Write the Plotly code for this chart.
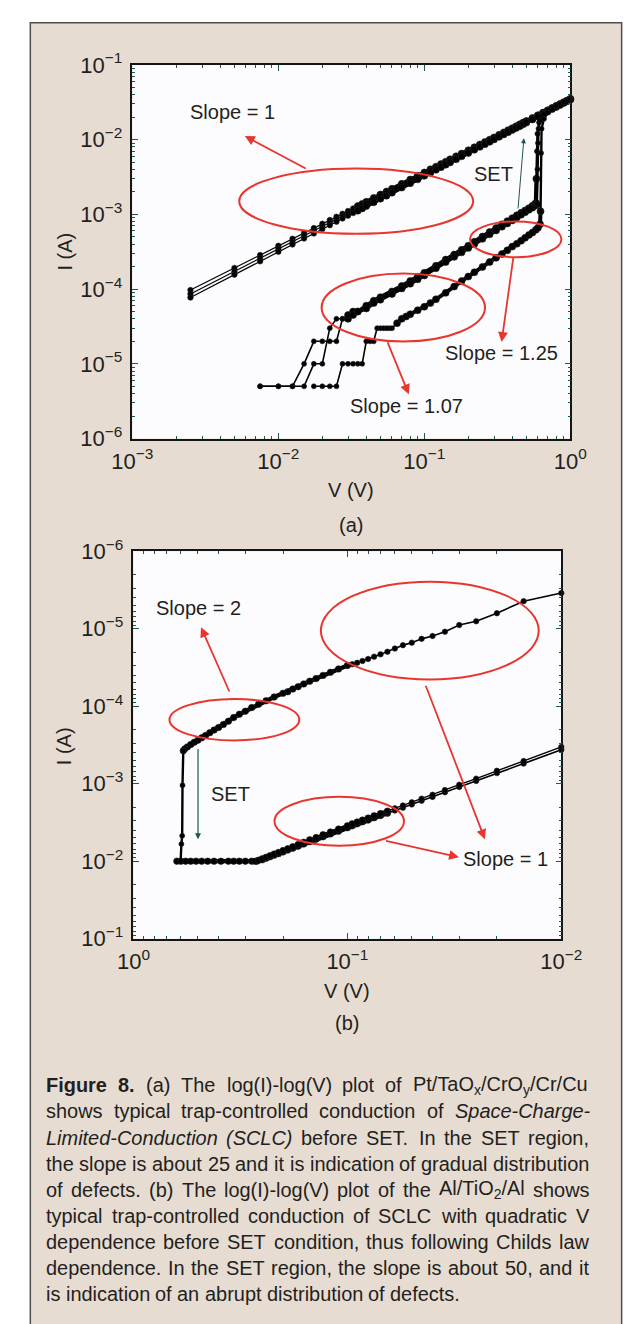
import re
import plotly.graph_objects as go

W, H = 624, 1324

# ---------------- panel (a): Pt/TaOx/CrOy/Cr/Cu ----------------
# low-resistance state, three sweeps
a_lrs_v = [0.0025, 0.005, 0.0075, 0.01, 0.0125, 0.015, 0.0175, 0.02, 0.0225, 0.025,
           0.0275, 0.03, 0.0325, 0.035, 0.0375, 0.04, 0.045, 0.05, 0.055, 0.06,
           0.07, 0.08, 0.09, 0.1, 0.11, 0.12, 0.13, 0.14, 0.15, 0.165,
           0.18, 0.2, 0.22, 0.24, 0.26, 0.28, 0.3, 0.325, 0.35, 0.375,
           0.4, 0.425, 0.45, 0.475, 0.5, 0.55, 0.6, 0.65, 0.7, 0.75,
           0.8, 0.85, 0.9, 0.95, 1.0]
a_lrs_i1 = [9.7e-5, 1.92e-4, 2.85e-4, 3.8e-4, 4.72e-4, 5.65e-4, 6.55e-4, 7.5e-4, 8.4e-4, 9.3e-4,
            1.02e-3, 1.11e-3, 1.2e-3, 1.29e-3, 1.38e-3, 1.47e-3, 1.66e-3, 1.84e-3, 2.02e-3, 2.2e-3,
            2.56e-3, 2.92e-3, 3.28e-3, 3.64e-3, 4.0e-3, 4.35e-3, 4.71e-3, 5.07e-3, 5.45e-3, 5.97e-3,
            6.5e-3, 7.2e-3, 7.9e-3, 8.6e-3, 9.3e-3, 1.0e-2, 1.07e-2, 1.16e-2, 1.25e-2, 1.34e-2,
            1.42e-2, 1.51e-2, 1.6e-2, 1.69e-2, 1.77e-2, 1.95e-2, 2.12e-2, 2.3e-2, 2.47e-2, 2.65e-2,
            2.82e-2, 2.99e-2, 3.16e-2, 3.33e-2, 3.5e-2]
a_lrs_i2 = [8.6e-5, 1.72e-4, 2.6e-4, 3.45e-4, 4.3e-4, 5.2e-4, 6.0e-4, 6.9e-4, 7.75e-4, 8.6e-4,
            9.5e-4, 1.04e-3, 1.12e-3, 1.21e-3, 1.3e-3, 1.38e-3, 1.56e-3, 1.73e-3, 1.9e-3, 2.07e-3,
            2.42e-3, 2.77e-3, 3.11e-3, 3.46e-3, 3.81e-3, 4.15e-3, 4.5e-3, 4.85e-3, 5.2e-3, 5.72e-3,
            6.25e-3, 6.95e-3, 7.65e-3, 8.35e-3, 9.05e-3, 9.75e-3, 1.045e-2, 1.13e-2, 1.22e-2, 1.31e-2,
            1.4e-2, 1.48e-2, 1.57e-2, 1.66e-2, 1.75e-2, 1.92e-2, 2.1e-2, 2.27e-2, 2.45e-2, 2.62e-2,
            2.8e-2, 2.97e-2, 3.15e-2, 3.32e-2, 3.5e-2]
a_lrs_i3 = [7.7e-5, 1.56e-4, 2.35e-4, 3.15e-4, 3.95e-4, 4.75e-4, 5.55e-4, 6.35e-4, 7.15e-4, 7.95e-4,
            8.8e-4, 9.6e-4, 1.04e-3, 1.12e-3, 1.2e-3, 1.29e-3, 1.45e-3, 1.62e-3, 1.78e-3, 1.95e-3,
            2.28e-3, 2.61e-3, 2.94e-3, 3.28e-3, 3.61e-3, 3.95e-3, 4.28e-3, 4.62e-3, 4.95e-3, 5.46e-3,
            5.97e-3, 6.64e-3, 7.32e-3, 8.0e-3, 8.68e-3, 9.35e-3, 1.005e-2, 1.09e-2, 1.175e-2, 1.26e-2,
            1.345e-2, 1.43e-2, 1.515e-2, 1.6e-2, 1.69e-2, 1.86e-2, 2.03e-2, 2.21e-2, 2.38e-2, 2.56e-2,
            2.73e-2, 2.9e-2, 3.08e-2, 3.26e-2, 3.45e-2]

# high-resistance state sweeps up to SET
a_hrs1_v = [0.0075, 0.01, 0.0125, 0.015, 0.0175, 0.02, 0.0225, 0.025, 0.0275, 0.03,
            0.0325, 0.035, 0.04, 0.045, 0.05, 0.06, 0.07, 0.08, 0.09, 0.1,
            0.12, 0.14, 0.16, 0.18, 0.2, 0.22, 0.25, 0.28, 0.31, 0.34,
            0.37, 0.4, 0.43, 0.46, 0.49, 0.52, 0.55, 0.57, 0.58, 0.585,
            0.59, 0.595, 0.61, 0.64, 0.7, 0.8, 0.9, 1.0]
a_hrs1_i = [5e-6, 5e-6, 5e-6, 1e-5, 2e-5, 2e-5, 2e-5, 2e-5, 4e-5, 4e-5,
            5e-5, 5e-5, 6e-5, 7e-5, 7.8e-5, 9.3e-5, 1.1e-4, 1.28e-4, 1.46e-4, 1.65e-4,
            2.05e-4, 2.48e-4, 2.9e-4, 3.35e-4, 3.8e-4, 4.3e-4, 5.05e-4, 5.8e-4, 6.55e-4, 7.35e-4,
            8.1e-4, 8.9e-4, 9.7e-4, 1.05e-3, 1.13e-3, 1.21e-3, 1.3e-3, 1.36e-3, 1.42e-3, 3.0e-3,
            7.0e-3, 1.2e-2, 1.7e-2, 2.1e-2, 2.5e-2, 2.9e-2, 3.2e-2, 3.5e-2]

a_hrs2_v = [0.0075, 0.01, 0.0125, 0.015, 0.0175, 0.02, 0.0225, 0.025, 0.0275, 0.03,
            0.0325, 0.035, 0.04, 0.045, 0.05, 0.06, 0.07, 0.08, 0.09, 0.1,
            0.12, 0.14, 0.16, 0.18, 0.2, 0.22, 0.25, 0.28, 0.31, 0.34,
            0.37, 0.4, 0.43, 0.46, 0.49, 0.52, 0.55, 0.58, 0.59, 0.595,
            0.6, 0.605, 0.62, 0.66, 0.75, 0.85, 1.0]
a_hrs2_i = [5e-6, 5e-6, 5e-6, 5e-6, 1e-5, 1e-5, 3e-5, 4e-5, 4e-5, 4.5e-5,
            4.5e-5, 5e-5, 5.5e-5, 6.5e-5, 7.2e-5, 8.6e-5, 1.02e-4, 1.18e-4, 1.35e-4, 1.52e-4,
            1.9e-4, 2.3e-4, 2.7e-4, 3.1e-4, 3.55e-4, 4.0e-4, 4.7e-4, 5.4e-4, 6.1e-4, 6.85e-4,
            7.55e-4, 8.3e-4, 9.1e-4, 9.9e-4, 1.07e-3, 1.15e-3, 1.23e-3, 1.31e-3, 1.38e-3, 4.0e-3,
            9.0e-3, 1.4e-2, 1.8e-2, 2.2e-2, 2.7e-2, 3.05e-2, 3.5e-2]

a_hrs3_v = [0.0175, 0.02, 0.0225, 0.025, 0.0275, 0.03, 0.0325, 0.035, 0.0375, 0.04,
            0.0425, 0.045, 0.0475, 0.05, 0.0525, 0.055, 0.0575, 0.06, 0.065, 0.07,
            0.075, 0.08, 0.09, 0.1, 0.11, 0.12, 0.14, 0.16, 0.18, 0.2,
            0.22, 0.25, 0.28, 0.31, 0.34, 0.37, 0.4, 0.43, 0.46, 0.49,
            0.52, 0.55, 0.58, 0.6, 0.62, 0.625, 0.63, 0.635, 0.66, 0.7,
            0.8, 0.9, 1.0]
a_hrs3_i = [5e-6, 5e-6, 5e-6, 5e-6, 1e-5, 1e-5, 1e-5, 1e-5, 1e-5, 2e-5,
            2e-5, 2e-5, 3e-5, 3e-5, 3e-5, 3e-5, 3e-5, 3e-5, 3.5e-5, 4e-5,
            4.3e-5, 4.6e-5, 5.2e-5, 5.8e-5, 6.5e-5, 7.3e-5, 8.9e-5, 1.08e-4, 1.28e-4, 1.47e-4,
            1.68e-4, 1.98e-4, 2.3e-4, 2.62e-4, 2.95e-4, 3.3e-4, 3.7e-4, 4.05e-4, 4.45e-4, 4.85e-4,
            5.3e-4, 5.7e-4, 6.2e-4, 6.6e-4, 7.4e-4, 1.1e-3, 6.6e-3, 1.4e-2, 1.9e-2, 2.3e-2,
            2.8e-2, 3.2e-2, 3.5e-2]

# ---------------- panel (b): Al/TiO2/Al ----------------
b_hrs_v = [0.01, 0.015, 0.02, 0.025, 0.03, 0.035, 0.04, 0.045, 0.05, 0.055,
           0.06, 0.065, 0.07, 0.075, 0.08, 0.085, 0.09, 0.095, 0.1, 0.11,
           0.12, 0.13, 0.14, 0.15, 0.16, 0.17, 0.18, 0.19, 0.2, 0.22,
           0.24, 0.26, 0.28, 0.3, 0.32, 0.34, 0.36, 0.38, 0.4, 0.42,
           0.44, 0.46, 0.48, 0.5, 0.52, 0.54, 0.56, 0.575, 0.585, 0.59,
           0.592, 0.597, 0.602, 0.615, 0.627]
b_hrs_i = [3.46e-6, 4.4e-6, 6.3e-6, 8.0e-6, 8.95e-6, 1.09e-5, 1.24e-5, 1.35e-5, 1.51e-5, 1.63e-5,
           1.8e-5, 1.98e-5, 2.14e-5, 2.29e-5, 2.45e-5, 2.6e-5, 2.75e-5, 2.87e-5, 2.98e-5, 3.3e-5,
           3.65e-5, 4.0e-5, 4.4e-5, 4.75e-5, 5.15e-5, 5.6e-5, 6.0e-5, 6.5e-5, 6.8e-5, 7.6e-5,
           8.5e-5, 9.4e-5, 1.04e-4, 1.16e-4, 1.27e-4, 1.4e-4, 1.56e-4, 1.72e-4, 1.88e-4, 2.03e-4,
           2.2e-4, 2.38e-4, 2.56e-4, 2.74e-4, 2.92e-4, 3.12e-4, 3.35e-4, 3.55e-4, 3.75e-4, 1.05e-3,
           4.7e-3, 6.0e-3, 1.0e-2, 1.0e-2, 1.0e-2]

# return sweep: compliance plateau, then low-resistance state
b_ret_v = [0.627, 0.6, 0.57, 0.54, 0.51, 0.48, 0.45, 0.42, 0.39, 0.36,
           0.34, 0.32, 0.3, 0.28, 0.265, 0.25, 0.24, 0.23, 0.22, 0.21,
           0.2, 0.19, 0.18, 0.17, 0.16, 0.15, 0.14, 0.13, 0.12, 0.11,
           0.1, 0.095, 0.09, 0.085, 0.08, 0.075, 0.07, 0.065, 0.06, 0.055,
           0.05, 0.045, 0.04, 0.035, 0.03, 0.025, 0.02, 0.015, 0.01]
b_ret_i = [1e-2, 1e-2, 1e-2, 1e-2, 1e-2, 1e-2, 1e-2, 1e-2, 1e-2, 1e-2,
           1e-2, 1e-2, 1e-2, 1e-2, 1e-2, 9.6e-3, 9.2e-3, 8.8e-3, 8.4e-3, 8.0e-3,
           7.6e-3, 7.2e-3, 6.8e-3, 6.4e-3, 6.0e-3, 5.6e-3, 5.2e-3, 4.85e-3, 4.45e-3, 4.1e-3,
           3.7e-3, 3.5e-3, 3.3e-3, 3.1e-3, 2.95e-3, 2.75e-3, 2.58e-3, 2.4e-3, 2.22e-3, 2.04e-3,
           1.85e-3, 1.66e-3, 1.48e-3, 1.29e-3, 1.1e-3, 9.2e-4, 7.3e-4, 5.5e-4, 3.65e-4]

b_lrs2_v = [0.27, 0.26, 0.25, 0.24, 0.23, 0.22, 0.21, 0.2, 0.19, 0.18,
            0.17, 0.16, 0.15, 0.14, 0.13, 0.12, 0.11, 0.1, 0.095, 0.09,
            0.085, 0.08, 0.075, 0.07, 0.065, 0.06, 0.055, 0.05, 0.045, 0.04,
            0.035, 0.03, 0.025, 0.02, 0.015, 0.01]
b_lrs2_i = [1e-2, 9.7e-3, 9.3e-3, 8.9e-3, 8.5e-3, 8.1e-3, 7.7e-3, 7.3e-3, 6.9e-3, 6.5e-3,
            6.1e-3, 5.7e-3, 5.3e-3, 4.95e-3, 4.55e-3, 4.2e-3, 3.85e-3, 3.5e-3, 3.3e-3, 3.12e-3,
            2.95e-3, 2.78e-3, 2.6e-3, 2.43e-3, 2.26e-3, 2.08e-3, 1.91e-3, 1.74e-3, 1.56e-3, 1.39e-3,
            1.21e-3, 1.03e-3, 8.6e-4, 6.8e-4, 5.1e-4, 3.35e-4]

# tick labels
a_x_ticks = [1e-3, 1e-2, 1e-1, 1.0]
a_x_labels = ["10<sup>\u22123</sup>", "10<sup>\u22122</sup>", "10<sup>\u22121</sup>", "10<sup>0</sup>"]
y_ticks = [1e-6, 1e-5, 1e-4, 1e-3, 1e-2, 1e-1]
y_labels = ["10<sup>\u22126</sup>", "10<sup>\u22125</sup>", "10<sup>\u22124</sup>",
            "10<sup>\u22123</sup>", "10<sup>\u22122</sup>", "10<sup>\u22121</sup>"]
b_x_ticks = [1.0, 1e-1, 1e-2]
b_x_labels = ["10<sup>0</sup>", "10<sup>\u22121</sup>", "10<sup>\u22122</sup>"]

caption_lines = [
    ["<b>Figure</b>", "<b>8.</b>", "(a)", "The", "log(I)-log(V)", "plot", "of",
     "Pt/TaO<sub>x</sub>/CrO<sub>y</sub>/Cr/Cu"],
    ["shows", "typical", "trap-controlled", "conduction", "of", "<i>Space-Charge-</i>"],
    ["<i>Limited-Conduction</i>", "<i>(SCLC)</i>", "before", "SET.", "In", "the", "SET", "region,"],
    "the slope is about 25 and it is indication of gradual distribution".split(),
    ["of", "defects.", "(b)", "The", "log(I)-log(V)", "plot", "of", "the",
     "Al/TiO<sub>2</sub>/Al", "shows"],
    "typical trap-controlled conduction of SCLC with quadratic V".split(),
    "dependence before SET condition, thus following Childs law".split(),
    "dependence. In the SET region, the slope is about 50, and it".split(),
    "is indication of an abrupt distribution of defects.".split(),
]

# ---------------- styling ----------------
FONT = "Liberation Sans, Arial, Helvetica, sans-serif"
TXT = "#231f20"
RED = "#e8352e"
TEAL = "#1f5656"
FRAME = "#151515"
BEIGE = "#e7dcd2"
PLOTBG = "#fcfcfe"
LABEL_FS = 20
TICK_FS = 22


def px(x):
    return x / W


def py(y):
    return 1 - y / H


# plot rectangles in page pixels (left, right, top, bottom)
A_BOX = (119.4, 589.0, 50.0, 432.0)
B_BOX = (120.6, 579.3, 547.3, 943.3)

fig = go.Figure()


def add_curve(v, i, xa, ya, parts):
    """Draw one sweep; parts = [(first, last, line width, marker size)] by point index."""
    for a, b, lw, ms in parts:
        fig.add_trace(go.Scatter(
            x=v[a:b], y=i[a:b], xaxis=xa, yaxis=ya, mode="lines+markers",
            line=dict(color="#000000", width=lw),
            marker=dict(symbol="circle", size=ms, color="#000000",
                        line=dict(width=0.6, color="#222222")),
            cliponaxis=False, hoverinfo="skip", showlegend=False))


for cur in (a_lrs_i1, a_lrs_i2, a_lrs_i3):
    add_curve(a_lrs_v, cur, "x", "y", [(0, 14, 1.2, 5.5), (13, None, 4.2, 7)])
add_curve(a_hrs1_v, a_hrs1_i, "x", "y", [(0, 10, 1.6, 5), (9, 40, 4.0, 7), (39, None, 2.4, 5)])
add_curve(a_hrs2_v, a_hrs2_i, "x", "y", [(0, 10, 1.6, 5), (9, 39, 4.0, 7), (38, None, 2.4, 5)])
add_curve(a_hrs3_v, a_hrs3_i, "x", "y", [(0, 19, 1.6, 5), (18, 46, 4.0, 7), (45, None, 2.4, 5)])

add_curve(b_hrs_v, b_hrs_i, "x2", "y2", [(0, 19, 1.6, 5.5), (18, 49, 4.4, 6.5), (48, None, 2.4, 5)])
add_curve(b_ret_v, b_ret_i, "x2", "y2", [(0, 38, 4.4, 6.5), (37, None, 1.6, 5.5)])
add_curve(b_lrs2_v, b_lrs2_i, "x2", "y2", [(0, 25, 3.8, 6.5), (24, None, 1.4, 5.5)])


def minor_vals(e0, e1):
    return [k * 10.0 ** e for e in range(e0, e1) for k in range(2, 10)]


def axis(domain, rng, tickvals, ticktext, minors, anchor, standoff):
    return dict(
        type="log", range=rng, domain=domain, anchor=anchor,
        showline=True, linecolor=FRAME, linewidth=1.5, mirror="allticks",
        ticks="inside", ticklen=6, tickwidth=1, tickcolor=TEAL,
        tickmode="array", tickvals=tickvals, ticktext=ticktext,
        ticklabelstandoff=standoff,
        minor=dict(tickmode="array", tickvals=minors, ticks="inside",
                   ticklen=3, tickwidth=1, tickcolor=TEAL, showgrid=False),
        showgrid=False, zeroline=False,
        tickfont=dict(family=FONT, size=TICK_FS, color=TXT))


fig.update_layout(
    xaxis=axis([px(A_BOX[0]), px(A_BOX[1])], [-3, 0], a_x_ticks, a_x_labels,
               minor_vals(-3, 0), "y", 2),
    yaxis=axis([py(A_BOX[3]), py(A_BOX[2])], [-6, -1], y_ticks, y_labels,
               minor_vals(-6, -1), "x", 4),
    xaxis2=axis([px(B_BOX[0]), px(B_BOX[1])], [0, -2], b_x_ticks, b_x_labels,
                minor_vals(-2, 0), "y2", 2),
    yaxis2=axis([py(B_BOX[3]), py(B_BOX[2])], [-1, -6], y_ticks, y_labels,
                minor_vals(-6, -1), "x2", 4),
)

shapes = []
# page panel
shapes.append(dict(type="rect", xref="paper", yref="paper", layer="below",
                   x0=px(10), x1=px(W + 20), y0=py(H + 20), y1=py(7),
                   fillcolor=BEIGE, line=dict(color="#4d4d4d", width=1.5)))
for (l, r, t, b) in (A_BOX, B_BOX):
    shapes.append(dict(type="rect", xref="paper", yref="paper", layer="below",
                       x0=px(l), x1=px(r), y0=py(b), y1=py(t),
                       fillcolor=PLOTBG, line=dict(width=0)))


def ellipse(cx, cy, rx, ry):
    shapes.append(dict(type="circle", xref="paper", yref="paper", layer="above",
                       x0=px(cx - rx), x1=px(cx + rx), y0=py(cy + ry), y1=py(cy - ry),
                       line=dict(color=RED, width=2)))


ellipse(359.4, 189.3, 125.4, 33.3)
ellipse(530.4, 228.3, 49.0, 18.3)
ellipse(409.9, 298.0, 87.6, 34.7)
ellipse(438.3, 628.3, 116.8, 50.0)
ellipse(228.8, 719.5, 69.6, 21.2)
ellipse(341.2, 823.3, 69.4, 25.0)

annotations = []


def label(x, y, text, size=LABEL_FS, angle=0, color=TXT, anchor="center"):
    annotations.append(dict(xref="paper", yref="paper", x=px(x), y=py(y), text=text,
                            showarrow=False, xanchor=anchor, yanchor="middle",
                            textangle=angle, borderpad=0, borderwidth=0,
                            font=dict(family=FONT, size=size, color=color)))


def arrow(tx, ty, hx, hy, color=RED, width=1.8, head=2, size=1.1):
    annotations.append(dict(xref="paper", yref="paper", x=px(hx), y=py(hy), text="",
                            showarrow=True, axref="pixel", ayref="pixel",
                            ax=tx - hx, ay=ty - hy, arrowhead=head, arrowsize=size,
                            arrowwidth=width, arrowcolor=color, standoff=0, startstandoff=0))


# panel (a) annotations
label(226.8, 98.3, "Slope = 1")
arrow(302.4, 156.0, 240.0, 122.7)
label(515.3, 345.0, "Slope = 1.25")
arrow(527.3, 246.7, 515.3, 333.3)
label(413.8, 399.0, "Slope = 1.07")
arrow(394.0, 333.3, 415.8, 386.7)
label(506.3, 161.7, "SET")
arrow(533.2, 196.7, 539.2, 125.0, color=TEAL, width=1, head=2, size=1.0)
label(47, 241, "I (A)", angle=-90)
label(354, 485, "V (V)")
label(354, 520, "(a)")

# panel (b) annotations
label(190.0, 605.0, "Slope = 2")
arrow(222.0, 690.7, 193.0, 625.0)
arrow(437.7, 686.7, 497.4, 841.7)
arrow(395.1, 843.3, 469.6, 860.0)
label(519.9, 861.7, "Slope = 1")
label(225.0, 795.0, "SET")
arrow(189.8, 750.0, 189.8, 841.7, color=TEAL, width=1.2, head=2, size=1.0)
label(47, 746.7, "I (A)", angle=-90)
label(350, 996.7, "V (V)")
label(350, 1030, "(b)")

# ---------------- justified caption ----------------
# advance widths (1/1000 em) of the sans face, used to spread words across the column
REG_W = {' ': 278, '!': 278, '(': 333, ')': 333, ',': 278, '-': 333, '.': 278, '/': 278,
         ':': 278, '=': 584,
         'A': 667, 'B': 667, 'C': 722, 'D': 722, 'E': 667, 'F': 611, 'G': 778, 'H': 722,
         'I': 278, 'J': 500, 'K': 667, 'L': 556, 'M': 833, 'N': 722, 'O': 778, 'P': 667,
         'Q': 778, 'R': 722, 'S': 667, 'T': 611, 'U': 722, 'V': 667, 'W': 944, 'X': 667,
         'Y': 667, 'Z': 611,
         'a': 556, 'b': 556, 'c': 500, 'd': 556, 'e': 556, 'f': 278, 'g': 556, 'h': 556,
         'i': 222, 'j': 222, 'k': 500, 'l': 222, 'm': 833, 'n': 556, 'o': 556, 'p': 556,
         'q': 556, 'r': 333, 's': 500, 't': 278, 'u': 556, 'v': 500, 'w': 722, 'x': 500,
         'y': 500, 'z': 500}
for d in "0123456789":
    REG_W[d] = 556
BOLD_W = {'F': 611, 'i': 278, 'g': 611, 'u': 611, 'r': 389, 'e': 556, '8': 556, '.': 278, ' ': 278}
RENDER_SCALE = 1.065  # on-screen advance relative to the nominal table


def text_em(html):
    total, scale, bold = 0.0, 1.0, False
    for tok in re.findall(r"<[^>]+>|[^<]+", html):
        if tok.startswith("<"):
            name = tok.strip("<>/").lower()
            closing = tok.startswith("</")
            if name == "b":
                bold = not closing
            elif name == "sub":
                scale = 1.0 if closing else 0.7
            continue
        for ch in tok:
            w = BOLD_W.get(ch, REG_W.get(ch, 556) * 1.05) if bold else REG_W.get(ch, 556)
            total += w * scale / 1000.0
    return total * RENDER_SCALE


CAP_X0, CAP_X1 = 27.0, 609.0
CAP_Y0, CAP_DY = 1093.3, 26.67
space_em = REG_W[' '] / 1000.0 * RENDER_SCALE
natural = [sum(text_em(w) for w in ln) + space_em * (len(ln) - 1) for ln in caption_lines]
cap_fs = min(20.2, (CAP_X1 - CAP_X0 - 2) / max(natural))

for li, words in enumerate(caption_lines):
    widths = [text_em(w) * cap_fs for w in words]
    if li < len(caption_lines) - 1 and len(words) > 1:
        gap = (CAP_X1 - CAP_X0 - sum(widths)) / (len(words) - 1)
    else:
        gap = space_em * cap_fs
    x = CAP_X0
    y = CAP_Y0 + li * CAP_DY
    for w, wd in zip(words, widths):
        annotations.append(dict(xref="paper", yref="paper", x=px(x), y=py(y), text=w,
                                showarrow=False, xanchor="left", yanchor="middle",
                                borderpad=0, borderwidth=0,
                                font=dict(family=FONT, size=cap_fs, color=TXT)))
        x += wd + gap

fig.update_layout(
    width=W, height=H, margin=dict(l=0, r=0, t=0, b=0, pad=0),
    paper_bgcolor="#ffffff", plot_bgcolor="rgba(0,0,0,0)",
    shapes=shapes, annotations=annotations,
    showlegend=False, hovermode=False,
    font=dict(family=FONT, color=TXT),
)

fig.write_html("out.html", include_plotlyjs=True, full_html=True,
               config={"displayModeBar": False},
               post_script="document.body.style.margin='0';document.body.style.overflow='hidden';")
